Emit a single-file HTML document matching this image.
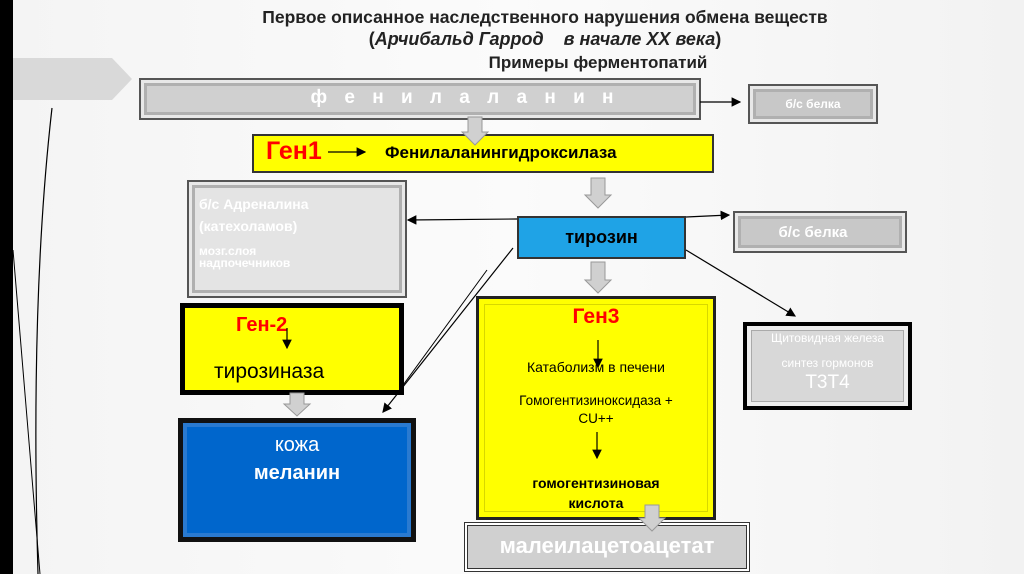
<!DOCTYPE html>
<html><head><meta charset="utf-8"><style>
body{margin:0;width:1024px;height:574px;overflow:hidden;background:linear-gradient(90deg,#f4f4f4,#fbfbfb 50%,#f2f2f2);font-family:"Liberation Sans","Noto Sans CJK SC",sans-serif;position:relative}
.a{position:absolute;box-sizing:border-box}
.bev{background:#c8c8c8;border:2px solid #555;box-shadow:inset 0 0 0 3px #e8e8e8,inset 0 0 0 6px #b0b0b0}
.t{position:absolute;text-align:center;white-space:nowrap}
</style></head><body>
<div class="a" style="left:0;top:0;width:13px;height:574px;background:#000"></div>
<svg class="a" style="left:0;top:0" width="1024" height="574">
<polygon points="13,58 112,58 132,79 112,100 13,100" fill="#d9d9d9"/>
<path d="M52,108 Q30,300 38,574" stroke="#000" fill="none" stroke-width="1.2"/>
<path d="M13,250 Q25,400 40,574" stroke="#000" fill="none" stroke-width="1"/>
</svg>
<div class="t" style="left:0;width:1090px;top:7px;font-size:17.5px;font-weight:bold;color:#222">Первое описанное наследственного нарушения обмена веществ</div>
<div class="t" style="left:0;width:1090px;top:29px;font-size:18px;font-weight:bold;color:#222">(<i>Арчибальд Гаррод &nbsp;&nbsp;&nbsp;в начале XX века</i>)</div>
<div class="t" style="left:0;width:1196px;top:53px;font-size:17px;font-weight:bold;color:#222">Примеры ферментопатий</div>

<div class="a bev" style="left:139px;top:78px;width:562px;height:42px;background:#d0d0d0"></div>
<div class="t" style="left:139px;width:652px;top:87px;font-size:19px;font-weight:bold;color:#fff;letter-spacing:6px">ф е н и л а л а н и н</div>
<div class="a bev" style="left:748px;top:84px;width:130px;height:40px"></div>
<div class="t" style="left:748px;width:130px;top:97px;font-size:12px;font-weight:bold;color:#fff">б/с белка</div>

<div class="a" style="left:252px;top:134px;width:462px;height:39px;background:#ff0;border:2px solid #333"></div>
<div class="t" style="left:266px;top:137px;font-size:25px;font-weight:bold;color:#f00">Ген1</div>
<div class="t" style="left:385px;top:143px;font-size:17px;font-weight:bold;color:#000">Фенилаланингидроксилаза</div>

<div class="a bev" style="left:187px;top:180px;width:220px;height:118px;background:#e4e4e4"></div>
<div class="t" style="left:199px;top:196px;font-size:14px;font-weight:bold;color:#fff;text-align:left">б/с Адреналина</div>
<div class="t" style="left:199px;top:218px;font-size:14px;font-weight:bold;color:#fff;text-align:left">(катехоламов)</div>
<div class="t" style="left:199px;top:245px;font-size:12px;font-weight:bold;color:#fff;text-align:left;line-height:12px">мозг.слоя<br>надпочечников</div>

<div class="a" style="left:517px;top:216px;width:169px;height:43px;background:#1fa3e6;border:2px solid #333"></div>
<div class="t" style="left:517px;width:169px;top:227px;font-size:18px;font-weight:bold;color:#000">тирозин</div>
<div class="a bev" style="left:733px;top:211px;width:174px;height:42px"></div>
<div class="t" style="left:733px;width:160px;top:224px;font-size:15px;font-weight:bold;color:#fff">б/с белка</div>

<div class="a" style="left:180px;top:303px;width:224px;height:92px;background:#ff0;border:5px solid #000"></div>
<div class="t" style="left:236px;top:314px;font-size:20px;font-weight:bold;color:#f00">Ген-2</div>
<div class="t" style="left:214px;top:360px;font-size:21px;color:#000">тирозиназа</div>

<div class="a" style="left:178px;top:418px;width:238px;height:124px;background:#0066cc;border:5px solid #111;box-shadow:inset 0 0 0 4px #2a7ad0"></div>
<div class="t" style="left:178px;width:238px;top:434px;font-size:20px;color:#fff">кожа</div>
<div class="t" style="left:178px;width:238px;top:462px;font-size:20px;font-weight:bold;color:#fff">меланин</div>

<div class="a" style="left:476px;top:296px;width:240px;height:224px;background:#ff0;border:3px solid #222;box-shadow:inset 0 0 0 5px #ff0,inset 0 0 0 6px #d8d800"></div>
<div class="t" style="left:476px;width:240px;top:305px;font-size:21px;font-weight:bold;color:#f00">Ген3</div>
<div class="t" style="left:476px;width:240px;top:359px;font-size:14px;color:#000">Катаболизм в печени</div>
<div class="t" style="left:476px;width:240px;top:392px;font-size:13.5px;color:#000;line-height:18px">Гомогентизиноксидаза +<br>CU++</div>
<div class="t" style="left:476px;width:240px;top:473px;font-size:14px;font-weight:bold;color:#000;line-height:20px">гомогентизиновая<br>кислота</div>

<div class="a" style="left:743px;top:322px;width:169px;height:88px;background:#d8d8d8;border:4px solid #000;box-shadow:inset 0 0 0 4px #eee,inset 0 0 0 5px #aaa"></div>
<div class="t" style="left:743px;width:169px;top:331px;font-size:12px;color:#fff">Щитовидная железа</div>
<div class="t" style="left:743px;width:169px;top:356px;font-size:12px;color:#fff">синтез гормонов</div>
<div class="t" style="left:743px;width:169px;top:372px;font-size:19px;color:#fff">Т3Т4</div>

<div class="a" style="left:464px;top:522px;width:286px;height:50px;background:#d0d0d0;border:1px solid #333;box-shadow:inset 0 0 0 2px #fff,inset 0 0 0 3px #333"></div>
<div class="t" style="left:464px;width:286px;top:533px;font-size:22px;font-weight:bold;color:#fff">малеилацетоацетат</div>

<svg class="a" style="left:0;top:0" width="1024" height="574">
<defs><marker id="m" markerWidth="8" markerHeight="8" refX="7" refY="4" orient="auto"><path d="M0,0L8,4L0,8z" fill="#000"/></marker></defs>
<line x1="700" y1="102" x2="740" y2="102" stroke="#000" stroke-width="1.2" marker-end="url(#m)"/>
<line x1="517" y1="219" x2="408" y2="220" stroke="#000" stroke-width="1.2" marker-end="url(#m)"/>
<line x1="686" y1="217" x2="729" y2="215" stroke="#000" stroke-width="1.2" marker-end="url(#m)"/>
<line x1="686" y1="250" x2="795" y2="316" stroke="#000" stroke-width="1.2" marker-end="url(#m)"/>
<line x1="513" y1="248" x2="383" y2="412" stroke="#000" stroke-width="1.2" marker-end="url(#m)"/>
<line x1="487" y1="270" x2="398" y2="392" stroke="#000" stroke-width="1"/>
<line x1="328" y1="152" x2="365" y2="152" stroke="#000" stroke-width="1.2" marker-end="url(#m)"/>
<line x1="287" y1="328" x2="287" y2="348" stroke="#000" stroke-width="1.2" marker-end="url(#m)"/>
<line x1="598" y1="340" x2="598" y2="367" stroke="#000" stroke-width="1.2" marker-end="url(#m)"/>
<line x1="597" y1="432" x2="597" y2="458" stroke="#000" stroke-width="1.2" marker-end="url(#m)"/>
<g fill="#d0d0d0" stroke="#999">
<polygon points="468,117 482,117 482,132 488,132 475,145 462,132 468,132"/>
<polygon points="591,178 605,178 605,195 611,195 598,208 585,195 591,195"/>
<polygon points="591,262 605,262 605,280 611,280 598,293 585,280 591,280"/>
<polygon points="290,393 304,393 304,404 310,404 297,416 284,404 290,404"/>
<polygon points="645,505 659,505 659,518 665,518 652,531 639,518 645,518"/>
</g>
</svg>
</body></html>
